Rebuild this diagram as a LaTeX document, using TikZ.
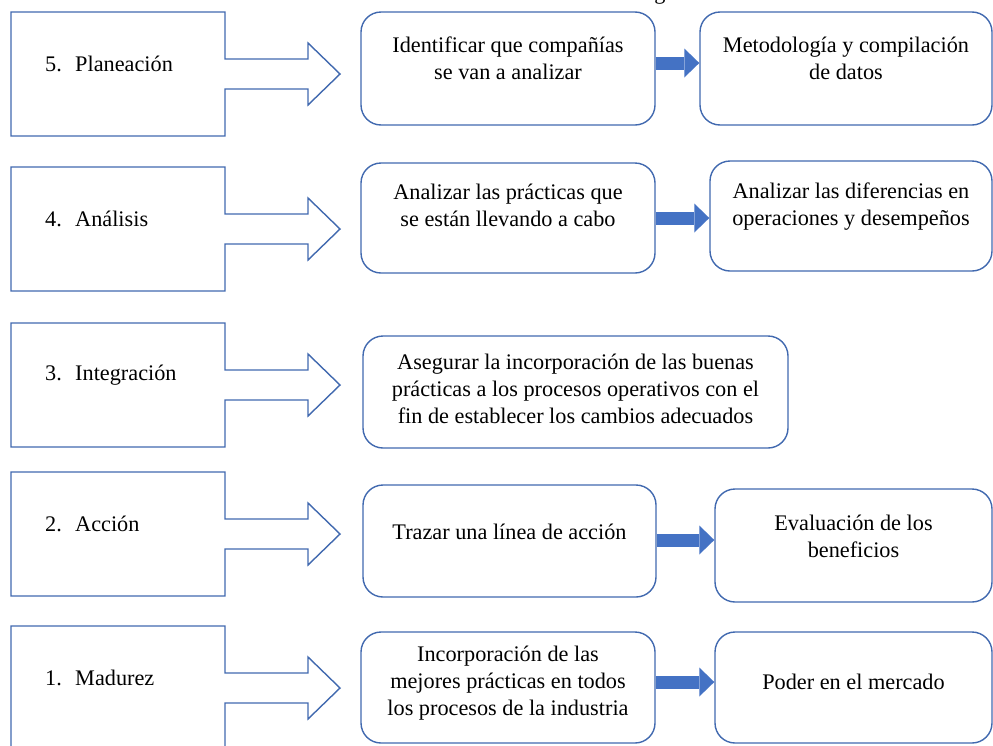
\documentclass[tikz,border=0pt]{standalone}
\usepackage{fontspec}
\setmainfont{Liberation Serif}
\usetikzlibrary{arrows.meta,fit}
\definecolor{borde}{RGB}{65,105,175}
\definecolor{azul}{RGB}{68,114,196}
\tikzset{
  fasebox/.style={minimum width=6.42cm, minimum height=3.72cm, inner sep=0pt, outer sep=0pt},
  callout/.style={draw=borde, line width=1.2pt, line join=miter},
  rbox/.style={draw=borde, line width=1.2pt, rounded corners=0.6cm, inner sep=0pt},
  txt/.style={align=center, font=\fontsize{19}{23}\selectfont, inner sep=0pt},
  flujo/.style={draw=azul, line width=0.39cm, -{Triangle[width=0.87cm,length=0.45cm,line width=0pt]}}
}
\begin{document}
\begin{tikzpicture}[x=0.03cm, y=-0.03cm]
    \useasboundingbox (0,0) rectangle (993,745);
    \node[txt, anchor=base] (titulo) at (660,-1) {g};
    % fases
    \foreach \y/\k/\nom in {12/5/Planeación, 167/4/Análisis, 323/3/Integración, 472/2/Acción, 626/1/Madurez}{
        \node[fasebox] (s\k) at (118,\y+62) {};
        \draw[callout] (s\k.north east) -- ++(0,47) -- ++(83,0) -- ++(0,-16) -- ++(32,31) -- ++(-32,31) -- ++(0,-16) -- ++(-83,0) -- (s\k.south east) -- (s\k.south west) -- (s\k.north west) -- cycle;
        \node[txt, anchor=west] (f\k) at (45,\y+52) {\makebox[0.9cm][l]{\k.}\nom};
    }
    % 5
    \node[rbox, fit={(361,12) (655,125)}] (a5) {};
    \node[rbox, fit={(700,12) (992,125)}] (b5) {};
    \node[txt] (ta5) at (a5.center |- 0,58) {Identificar que compañías\\se van a analizar};
    \node[txt] (tb5) at (b5.center |- 0,58) {Metodología y compilación\\de datos};
    \draw[flujo] (a5.east |- 0,63) -- (b5.west |- 0,63);
    % 4
    \node[rbox, fit={(361,163) (655,273)}] (a4) {};
    \node[rbox, fit={(710,161) (992,271)}] (b4) {};
    \node[txt] (ta4) at (a4.center |- 0,205) {Analizar las prácticas que\\se están llevando a cabo};
    \node[txt] (tb4) at (b4.center |- 0,207) {Analizar las diferencias en\\operaciones y desempeños};
    \draw[flujo] (a4.east |- 0,218) -- (b4.west |- 0,218);
    % 3
    \node[rbox, fit={(363,336) (788,448)}] (a3) {};
    \node[txt] (ta3) at (a3.center |- 0,389) {Asegurar la incorporación de las buenas\\prácticas a los procesos operativos con el\\fin de establecer los cambios adecuados};
    % 2
    \node[rbox, fit={(363,485) (656,597)}] (a2) {};
    \node[rbox, fit={(715,489) (992,602)}] (b2) {};
    \node[txt] (ta2) at (a2.center |- 0,532) {Trazar una línea de acción};
    \node[txt] (tb2) at (b2.center |- 0,536) {Evaluación de los\\beneficios};
    \draw[flujo] (a2.east |- 0,540) -- (b2.west |- 0,540);
    % 1
    \node[rbox, fit={(361,632) (655,743)}] (a1) {};
    \node[rbox, fit={(715,632) (992,743)}] (b1) {};
    \node[txt] (ta1) at (a1.center |- 0,683) {Incorporación de las\\mejores prácticas en todos\\los procesos de la industria};
    \node[txt] (tb1) at (b1.center |- 0,682) {Poder en el mercado};
    \draw[flujo] (a1.east |- 0,682) -- (b1.west |- 0,682);
\end{tikzpicture}
\end{document}
